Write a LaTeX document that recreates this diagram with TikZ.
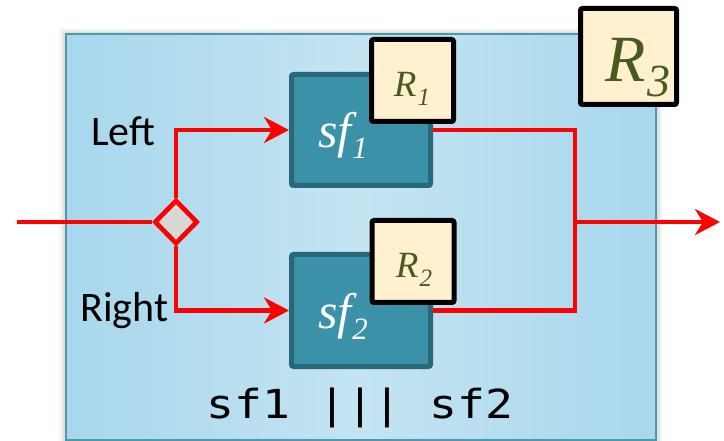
\documentclass[tikz,border=0pt]{standalone}
\usepackage{fontspec}
\usepackage{graphicx}
\newfontfamily\labfont{Carlito}
\newfontfamily\codefont{DejaVu Sans Mono}
\newfontfamily\varfont{Liberation Serif}
\usetikzlibrary{arrows.meta,shapes.geometric}
\definecolor{boxedge}{RGB}{74,154,176}
\definecolor{boxouter}{RGB}{168,215,236}
\definecolor{boxinner}{RGB}{196,228,242}
\definecolor{sffill}{RGB}{58,145,168}
\definecolor{sfedge}{RGB}{40,104,120}
\definecolor{rfill}{RGB}{255,241,208}
\definecolor{rtext}{RGB}{72,90,30}
\definecolor{diafill}{RGB}{216,216,216}
\newcommand\ivar[5]{{\varfont\fontsize{#3}{#3}\selectfont\itshape #1\kern1pt\raisebox{-#5pt}{\fontsize{#4}{#4}\selectfont #2}}}
\tikzset{
  sfbox/.style={draw=sfedge,fill=sffill,line width=5pt,rounded corners=2pt,minimum width=139pt,minimum height=111pt,inner sep=0pt},
  rbox/.style={draw=black,fill=rfill,line width=5pt,rounded corners=2pt,minimum width=82pt,minimum height=82pt,inner sep=0pt},
  redline/.style={draw=red,line width=4.5pt,line join=miter},
  tip/.style={-{Stealth[length=25pt,width=26pt,inset=8pt]}},
  sflabel/.style={text=white,anchor=base,inner sep=0pt},
  rlabel/.style={text=rtext,anchor=base,inner sep=0pt},
  sidelabel/.style={font=\labfont\fontsize{42}{42}\selectfont,anchor=base west,inner sep=0pt}
}
\begin{document}
\begin{tikzpicture}[x=1pt,y=-1pt]
\useasboundingbox (0,0) rectangle (724,441);
% shadow
\foreach \d/\o in {6/0.03,4/0.04,2/0.06}{
  \fill[black,opacity=\o] (65-\d,34-\d) rectangle (657+\d,441);
}
% outer box
\node[draw=boxedge,line width=2pt,inner sep=0pt,minimum width=590pt,minimum height=405pt,
  left color=boxouter,right color=boxouter,middle color=boxinner] (outer) at (361,237) {};
% coordinates
\coordinate (in) at (17,222);
\coordinate (join) at (575,222);
\coordinate (out) at (720,222);
% boxes
\node[sfbox] (sf1) at (361,130) {};
\node[sfbox,minimum height=112pt] (sf2) at (361,310.5) {};
% diamond
\node[shape=diamond,draw=red,fill=diafill,line width=4.5pt,inner sep=0pt,aspect=1,minimum width=43pt,minimum height=44pt] (dia) at (176,222) {};
% red lines
\draw[redline] (in) -- (dia.west);
\draw[redline,tip] (dia.north) |- (sf1.west);
\draw[redline,tip] (dia.south) |- (sf2.west);
\draw[redline] (sf1.east) -| (join);
\draw[redline] (sf2.east) -| (join);
\draw[redline,tip] (join) -- (out);
% redraw diamond on top
\node[shape=diamond,draw=red,fill=diafill,line width=4.5pt,inner sep=0pt,aspect=1,minimum width=43pt,minimum height=44pt] (dia2) at (dia) {};
% resource boxes
\node[rbox] (r1) at (412.5,80.5) {};
\node[rbox] (r2) at (413,261.5) {};
\node[rbox,minimum width=96pt,minimum height=96pt] (r3) at (628.5,56.5) {};
% labels
\node[sflabel] (sf1t) at (343,148) {\ivar{sf}{1}{50}{31}{11}};
\node[sflabel] (sf2t) at (343,328.5) {\ivar{sf}{2}{50}{31}{11}};
\node[rlabel] (r1t) at (412,97) {\ivar{R}{1}{37}{25}{9}};
\node[rlabel] (r2t) at (414,278) {\ivar{R}{2}{37}{25}{9}};
\node[rlabel] (r3t) at (638,82) {\ivar{R}{3}{66}{46}{15}};
\node[sidelabel] (leftt) at (91,146) {Left};
\node[sidelabel] (rightt) at (80,322) {Right};
\node[anchor=base,inner sep=0pt] (code) at (360,418) {\scalebox{1.16}[1]{\codefont\fontsize{40}{40}\selectfont sf1 ||| sf2}};
\end{tikzpicture}
\end{document}
